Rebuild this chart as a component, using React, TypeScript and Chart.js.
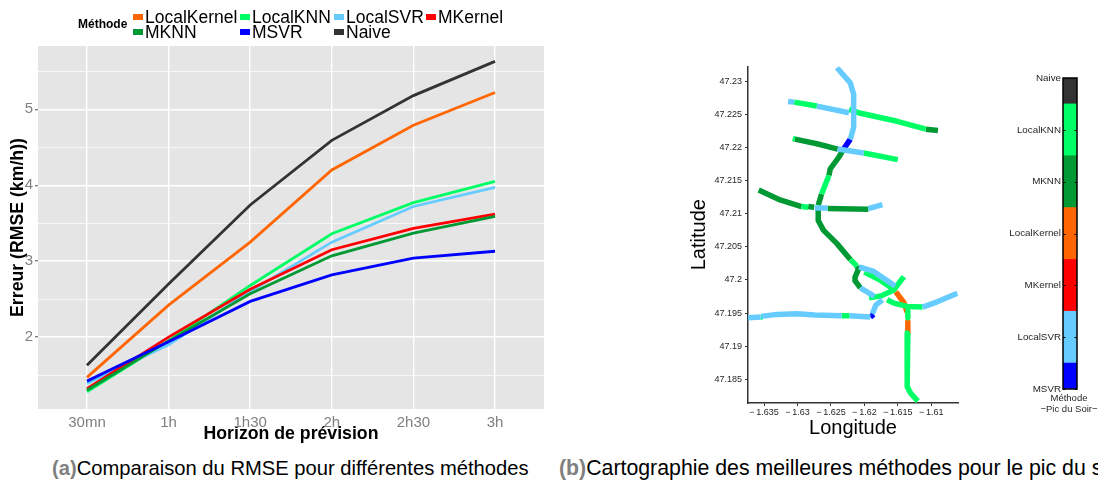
import React, { useEffect, useRef } from "react";
import { Chart, registerables } from "chart.js";

Chart.register(...registerables);

const FONT = "'Liberation Sans', Arial, sans-serif";

// ---- left chart data
const horizons = ["30mn", "1h", "1h30", "2h", "2h30", "3h"];
const localKernel = [1.47, 2.42, 3.25, 4.2, 4.79, 5.22];
const localKNN = [1.28, 1.95, 2.68, 3.36, 3.77, 4.05];
const localSVR = [1.39, 1.9, 2.6, 3.25, 3.72, 3.97];
const mKernel = [1.32, 2.0, 2.63, 3.15, 3.43, 3.62];
const mKNN = [1.3, 1.95, 2.57, 3.07, 3.37, 3.59];
const mSVR = [1.42, 1.94, 2.47, 2.82, 3.04, 3.13];
const naive = [1.63, 2.7, 3.74, 4.59, 5.18, 5.63];

const COLORS: Record<string, string> = {
  LocalKernel: "#FF6600",
  LocalKNN: "#00FF66",
  LocalSVR: "#66CCFF",
  MKernel: "#FF0000",
  MKNN: "#009933",
  MSVR: "#0000FF",
  Naive: "#333333",
};
const rmseSeries: [string, number[]][] = [
  ["LocalKernel", localKernel],
  ["LocalKNN", localKNN],
  ["LocalSVR", localSVR],
  ["MKernel", mKernel],
  ["MKNN", mKNN],
  ["MSVR", mSVR],
  ["Naive", naive],
];

// ---- map data: [longitude, latitude] polylines for each method
type Path = number[][];
const svrPaths: Path[] = [
  [[-1.6241, 47.2321], [-1.6221, 47.2298], [-1.6216, 47.2281], [-1.6216, 47.2258], [-1.6216, 47.2231], [-1.6221, 47.2213]],
  [[-1.6314, 47.227], [-1.6305, 47.2269]],
  [[-1.6271, 47.2263], [-1.6223, 47.2253]],
  [[-1.624, 47.2198], [-1.6201, 47.2192]],
  [[-1.6274, 47.2109], [-1.6255, 47.2109]],
  [[-1.6194, 47.2108], [-1.6173, 47.2114]],
  [[-1.6208, 47.2020], [-1.6186, 47.2013], [-1.6154, 47.1991]],
  [[-1.6206, 47.1988], [-1.6191, 47.1979], [-1.6185, 47.1975]],
  [[-1.6113, 47.1959], [-1.6091, 47.1967], [-1.6061, 47.198]],
  [[-1.6374, 47.1943], [-1.6355, 47.1944]],
  [[-1.6354, 47.1945], [-1.6331, 47.1948], [-1.6301, 47.1949], [-1.6274, 47.1947], [-1.6234, 47.1946]],
  [[-1.6222, 47.1946], [-1.6191, 47.1944]],
  [[-1.6188, 47.1949], [-1.6183, 47.1962], [-1.6173, 47.197]],
];
const knnPaths: Path[] = [
  [[-1.6305, 47.2269], [-1.6271, 47.2263]],
  [[-1.6223, 47.2258], [-1.6209, 47.2253], [-1.6151, 47.224], [-1.6108, 47.2228]],
  [[-1.6307, 47.2214], [-1.6304, 47.2213]],
  [[-1.6201, 47.2192], [-1.615, 47.2182]],
  [[-1.6253, 47.2158], [-1.6264, 47.213]],
  [[-1.6294, 47.2111], [-1.6284, 47.211]],
  [[-1.6221, 47.2031], [-1.6211, 47.2021]],
  [[-1.62, 47.2012], [-1.6175, 47.1999], [-1.6155, 47.1985]],
  [[-1.6193, 47.1973], [-1.6175, 47.1976], [-1.6156, 47.1985], [-1.6141, 47.2005]],
  [[-1.6166, 47.197], [-1.6156, 47.1965], [-1.6136, 47.196], [-1.6113, 47.1959]],
  [[-1.6135, 47.1953], [-1.6135, 47.1943]],
  [[-1.6135, 47.192], [-1.6136, 47.1855], [-1.6136, 47.1839], [-1.6131, 47.1829], [-1.612, 47.1817]],
  [[-1.6355, 47.1944], [-1.6352, 47.1944]],
  [[-1.6234, 47.1946], [-1.6222, 47.1946]],
];
const mknnPaths: Path[] = [
  [[-1.6108, 47.2228], [-1.609, 47.2226]],
  [[-1.6304, 47.2213], [-1.6271, 47.2206], [-1.624, 47.2198]],
  [[-1.6231, 47.2198], [-1.6238, 47.2186], [-1.6251, 47.2168], [-1.6253, 47.2158]],
  [[-1.6264, 47.213], [-1.6269, 47.2113]],
  [[-1.6358, 47.2136], [-1.6326, 47.2121], [-1.6294, 47.2111]],
  [[-1.6284, 47.2111], [-1.6275, 47.211]],
  [[-1.6255, 47.2108], [-1.6194, 47.2107]],
  [[-1.6269, 47.2106], [-1.6269, 47.209], [-1.6261, 47.2075], [-1.6241, 47.2055], [-1.6221, 47.2031]],
  [[-1.6211, 47.2021], [-1.6209, 47.2016], [-1.6214, 47.2004], [-1.6214, 47.1999], [-1.6206, 47.1988]],
];
const kernelPaths: Path[] = [
  [[-1.6153, 47.1982], [-1.6141, 47.1966], [-1.6136, 47.1951]],
  [[-1.6135, 47.1937], [-1.6135, 47.192]],
];
const msvrPaths: Path[] = [
  [[-1.6221, 47.2213], [-1.6231, 47.2198]],
  [[-1.6191, 47.1944], [-1.6186, 47.1948]],
];
const mapPaths: [string, Path[]][] = [
  ["LocalSVR", svrPaths],
  ["LocalKNN", knnPaths],
  ["MKNN", mknnPaths],
  ["LocalKernel", kernelPaths],
  ["MSVR", msvrPaths],
];

// ---- colour bar data
const barMethods = ["MSVR", "LocalSVR", "MKernel", "LocalKernel", "MKNN", "LocalKNN", "Naive"];
const barBands = [[0, 0.5], [0.5, 1.5], [1.5, 2.5], [2.5, 3.5], [3.5, 4.5], [4.5, 5.5], [5.5, 6]];

const legendRows = [
  ["LocalKernel", "LocalKNN", "LocalSVR", "MKernel"],
  ["MKNN", "MSVR", "Naive"],
];
const legendColumns = [133, 240, 334, 426];

const panelBackground = {
  id: "panelBackground",
  beforeDraw(chart: any) {
    const { ctx, chartArea: a } = chart;
    ctx.save();
    ctx.fillStyle = "#E5E5E5";
    ctx.fillRect(a.left, a.top, a.right - a.left, a.bottom - a.top);
    ctx.restore();
  },
};

const barFrame = {
  id: "barFrame",
  afterDatasetsDraw(chart: any) {
    const { ctx, chartArea: a, scales } = chart;
    ctx.save();
    ctx.strokeStyle = "#000";
    ctx.lineWidth = 1.5;
    ctx.strokeRect(a.left, a.top, a.right - a.left, a.bottom - a.top);
    ctx.lineWidth = 1;
    scales.y.ticks.forEach((t: any) => {
      const y = Math.round(scales.y.getPixelForValue(t.value)) + 0.5;
      ctx.beginPath();
      ctx.moveTo(a.left, y);
      ctx.lineTo(a.left + 2.5, y);
      ctx.moveTo(a.right - 2.5, y);
      ctx.lineTo(a.right, y);
      ctx.stroke();
    });
    ctx.restore();
  },
};

export default function App() {
  const lineRef = useRef<HTMLCanvasElement>(null);
  const mapRef = useRef<HTMLCanvasElement>(null);
  const barRef = useRef<HTMLCanvasElement>(null);

  useEffect(() => {
    const lineChart = new Chart(lineRef.current!, {
      type: "line",
      plugins: [panelBackground],
      data: {
        datasets: rmseSeries.map(([name, vals], i) => ({
          label: name,
          data: vals.map((y, x) => ({ x, y })),
          borderColor: COLORS[name],
          backgroundColor: COLORS[name],
          borderWidth: 2.8,
          pointRadius: 0,
          tension: 0,
          order: -i,
        })),
      },
      options: {
        responsive: false,
        animation: false,
        layout: { padding: { top: 46, right: 6, left: 0, bottom: 0 } },
        plugins: { legend: { display: false }, tooltip: { enabled: false } },
        scales: {
          x: {
            type: "linear",
            min: -0.6,
            max: 5.6,
            afterFit: (s: any) => { s.height = 36; },
            afterBuildTicks: (s: any) => { s.ticks = horizons.map((_, i) => ({ value: i })); },
            ticks: {
              autoSkip: false,
              maxRotation: 0,
              padding: 2,
              color: "#7F7F7F",
              font: { family: FONT, size: 15 },
              callback: (v: any) => horizons[v] ?? "",
            },
            border: { display: false },
            grid: { color: "#FFFFFF", lineWidth: 1.4, tickLength: 3, tickColor: "transparent" },
            title: {
              display: true,
              text: "Horizon de prévision",
              color: "#000",
              font: { family: FONT, size: 17.7, weight: "bold" },
              padding: { top: 0, bottom: 0 },
            },
          },
          y: {
            type: "linear",
            min: 1.053,
            max: 5.833,
            afterFit: (s: any) => { s.width = 38; },
            afterBuildTicks: (s: any) => {
              s.ticks = [1.5, 2, 2.5, 3, 3.5, 4, 4.5, 5, 5.5].map((value) => ({ value }));
            },
            ticks: {
              autoSkip: false,
              padding: 2,
              color: "#7F7F7F",
              font: { family: FONT, size: 15 },
              callback: (v: any) => (Number.isInteger(v) ? String(v) : ""),
            },
            border: { display: false },
            grid: {
              color: "#FFFFFF",
              lineWidth: (c: any) => (Number.isInteger(c.tick?.value) ? 1.4 : 0.7),
              tickLength: 3,
              tickColor: (c: any) => (Number.isInteger(c.tick?.value) ? "#7F7F7F" : "transparent"),
            },
            title: {
              display: true,
              text: "Erreur (RMSE (km/h))",
              color: "#000",
              font: { family: FONT, size: 17.7, weight: "bold" },
              padding: { top: 7, bottom: 0 },
            },
          },
        },
      },
    } as any);

    const mapDatasets: any[] = [];
    mapPaths.forEach(([name, paths]) => {
      paths.forEach((p) => {
        mapDatasets.push({
          label: name,
          data: p.map(([x, y]) => ({ x, y })),
          showLine: true,
          borderColor: COLORS[name],
          borderWidth: 5.5,
          borderCapStyle: "butt",
          borderJoinStyle: "round",
          pointRadius: 0,
          tension: 0,
        });
      });
    });
    const tickFont = { family: FONT, size: 9 };
    const mapChart = new Chart(mapRef.current!, {
      type: "scatter",
      data: { datasets: mapDatasets },
      options: {
        responsive: false,
        animation: false,
        layout: { padding: { top: 4, right: 12, left: 0, bottom: 0 } },
        plugins: { legend: { display: false }, tooltip: { enabled: false } },
        scales: {
          x: {
            type: "linear",
            min: -1.6374,
            max: -1.606,
            afterFit: (s: any) => { s.height = 37; },
            ticks: {
              stepSize: 0.005,
              includeBounds: false,
              autoSkip: false,
              maxRotation: 0,
              padding: 1,
              color: "#262626",
              font: tickFont,
              callback: (v: any) => "\u2212\u2009" + Math.abs(Number(v)).toFixed(3).replace(/0$/, ""),
            },
            border: { display: true, color: "#333", width: 1.5 },
            grid: { drawOnChartArea: false, color: "#333", tickLength: 3 },
            title: {
              display: true,
              text: "Longitude",
              color: "#000",
              font: { family: FONT, size: 20 },
              padding: { top: 0, bottom: 0 },
            },
          },
          y: {
            type: "linear",
            min: 47.1814,
            max: 47.2323,
            afterFit: (s: any) => { s.width = 68; },
            ticks: {
              stepSize: 0.005,
              includeBounds: false,
              autoSkip: false,
              padding: 3,
              color: "#262626",
              font: tickFont,
              callback: (v: any) => String(Number(Number(v).toFixed(3))),
            },
            border: { display: true, color: "#333", width: 1.5 },
            grid: { drawOnChartArea: false, color: "#333", tickLength: 3 },
            title: {
              display: true,
              text: "Latitude",
              color: "#000",
              font: { family: FONT, size: 20 },
              padding: { top: 7, bottom: 0 },
            },
          },
        },
      },
    } as any);

    const barChart = new Chart(barRef.current!, {
      type: "bar",
      plugins: [barFrame],
      data: {
        labels: ["Méthode"],
        datasets: barMethods.map((name, i) => ({
          label: name,
          data: [barBands[i]],
          backgroundColor: COLORS[name],
          borderWidth: 0,
          grouped: false,
          barPercentage: 1,
          categoryPercentage: 1,
        })),
      },
      options: {
        responsive: false,
        animation: false,
        layout: { padding: { top: 18, right: 21, left: 0, bottom: 0 } },
        plugins: { legend: { display: false }, tooltip: { enabled: false } },
        scales: {
          x: {
            afterFit: (s: any) => { s.height = 41; },
            ticks: { display: false },
            border: { display: false },
            grid: { display: false },
          },
          y: {
            type: "linear",
            min: 0,
            max: 6,
            afterFit: (s: any) => { s.width = 63; },
            ticks: {
              stepSize: 1,
              autoSkip: false,
              padding: 0,
              color: "#262626",
              font: { family: FONT, size: 9.8 },
              callback: (v: any) => barMethods[v] ?? "",
            },
            border: { display: false },
            grid: { drawOnChartArea: false, tickLength: 2, tickColor: "transparent" },
          },
        },
      },
    } as any);

    return () => {
      lineChart.destroy();
      mapChart.destroy();
      barChart.destroy();
    };
  }, []);

  const abs = { position: "absolute" as const, whiteSpace: "nowrap" as const, fontFamily: FONT };
  return (
    <div style={{ position: "fixed", left: 0, top: 0, width: 1098, height: 481, overflow: "hidden", background: "#fff" }}>
      <canvas ref={lineRef} width={550} height={445} style={{ position: "absolute", left: 0, top: 0, display: "block" }} />
      <canvas ref={mapRef} width={290} height={382} style={{ position: "absolute", left: 680, top: 58, display: "block" }} />
      <canvas ref={barRef} width={98} height={370} style={{ position: "absolute", left: 1000, top: 60, display: "block" }} />
      <div style={{ ...abs, left: 1039, width: 60, top: 392, fontSize: 9.5, lineHeight: "11px", color: "#262626", textAlign: "center" }}>
        Méthode<br />{"\u2212Pic du Soir\u2212"}
      </div>
      <div style={{ ...abs, left: 78, top: 17, fontSize: 12, lineHeight: "14px", fontWeight: "bold", color: "#000" }}>Méthode</div>
      {legendRows.map((row, r) =>
        row.map((name, c) => (
          <React.Fragment key={name}>
            <div style={{ position: "absolute", left: legendColumns[c], top: 14 + r * 14.5, width: 10, height: 6, background: COLORS[name] }} />
            <div style={{ ...abs, left: legendColumns[c] + 12, top: 7 + r * 14.5, fontSize: 17.5, lineHeight: "20px", color: "#000" }}>{name}</div>
          </React.Fragment>
        ))
      )}
      <div style={{ ...abs, left: 52, top: 457, fontSize: 20.2, lineHeight: "22px", color: "#000" }}>
        <b style={{ color: "#808080" }}>(a)</b>Comparaison du RMSE pour différentes méthodes
      </div>
      <div style={{ ...abs, left: 559, top: 457, fontSize: 21.3, lineHeight: "22px", color: "#000" }}>
        <b style={{ color: "#808080" }}>(b)</b>Cartographie des meilleures méthodes pour le pic du soir
      </div>
    </div>
  );
}
